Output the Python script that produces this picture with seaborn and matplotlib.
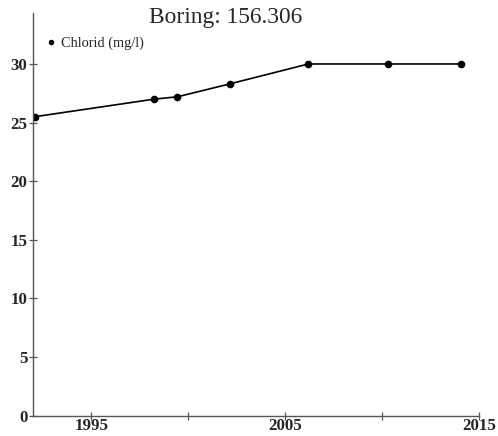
import pandas as pd
import matplotlib.pyplot as plt
import seaborn as sns

# Data
years = [1992.1, 1998.25, 1999.45, 2002.15, 2006.2, 2010.3, 2014.05]
chlorid = [25.5, 27.0, 27.2, 28.3, 30.0, 30.0, 30.0]
series_name = 'Chlorid (mg/l)'
title = 'Boring: 156.306'
x_major = [1995, 2005, 2015]
x_minor = [2000, 2010]
y_ticks = [0, 5, 10, 15, 20, 25, 30]

df = pd.DataFrame({'year': years, 'value': chlorid, 'serie': series_name})

sns.set_style('ticks')
plt.rcParams['font.family'] = ['Liberation Serif', 'DejaVu Serif']

fig = plt.figure(figsize=(4.98, 4.36), dpi=100)
ax = fig.add_axes([33 / 498, 20.5 / 436, (479 - 33) / 498, (415.5 - 13) / 436])

sns.lineplot(data=df, x='year', y='value', hue='serie', palette=['black'],
             marker='o', markersize=5.5, markeredgewidth=0, linewidth=1.2, ax=ax)

ax.set_xlim(1992.0, 2015)
ax.set_ylim(0, 34.35)
ax.set_xticks(x_major)
ax.set_xticks(x_minor, minor=True)
ax.set_yticks(y_ticks)
ax.tick_params(axis='both', which='both', direction='inout', length=6,
               width=0.9, color='#555555', labelsize=12.2, pad=1)
ax.tick_params(axis='x', which='both', pad=-1)
for lab in ax.get_xticklabels() + ax.get_yticklabels():
    lab.set_fontweight('bold')
ax.set_xlabel('')
ax.set_ylabel('')
for side in ['top', 'right']:
    ax.spines[side].set_visible(False)
for side in ['left', 'bottom']:
    ax.spines[side].set_color('#555555')
    ax.spines[side].set_linewidth(1.0)

leg = ax.legend(loc='center left', bbox_to_anchor=((51 - 33) / 446, 1 - 30 / 402.5),
                frameon=False, handlelength=0, handletextpad=0.7,
                borderaxespad=0, borderpad=0, prop={'size': 10.4})
for h in leg.legend_handles:
    h.set_linestyle('')
    h.set_markersize(4)

fig.text(226 / 498, 1 - 17 / 436, title, ha='center', va='center', fontsize=16.8)

fig.savefig('out.png', dpi=100)
